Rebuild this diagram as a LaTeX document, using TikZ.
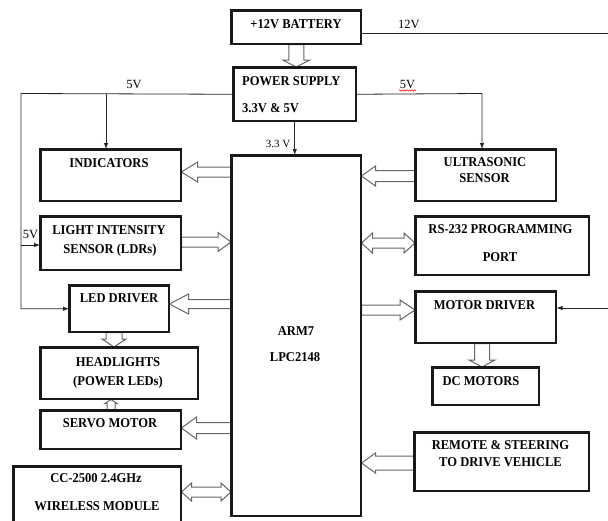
\documentclass[tikz,border=0pt]{standalone}
\usepackage{fontspec}
\setmainfont{Liberation Serif}
\newfontfamily\lblfont[FakeStretch=0.93]{Liberation Serif}
\usetikzlibrary{calc,arrows.meta,decorations.pathmorphing}
\tikzset{
  box/.style={draw=black!90, line width=1.5pt, rectangle, inner sep=0pt, anchor=north west},
  lbl/.style={inner sep=0pt, anchor=base, font=\lblfont\bfseries\fontsize{13.5}{15}\selectfont},
  vlt/.style={inner sep=0pt, anchor=base, font=\fontsize{12.5}{15}\selectfont},
  wire/.style={line width=0.8pt, draw=black!85},
  tip/.style={-{Latex[length=6pt,width=4.5pt]}},
  blkarr/.style={draw=black!60, fill=white, line width=1pt, line join=miter},
}
% hollow block arrow, head at #2: shaft half width #3, head half width #4, head length #5
\newcommand\blkone[5]{%
  \path[blkarr] let \p1=(#1), \p2=(#2),
    \n1={veclen(\x2-\x1,\y2-\y1)}, \n2={atan2(\y2-\y1,\x2-\x1)} in
    [shift={(\p1)}, rotate=\n2]
    (0pt,-#3pt) -- ({\n1-#5pt},-#3pt) -- ({\n1-#5pt},-#4pt) -- (\n1,0pt)
    -- ({\n1-#5pt},#4pt) -- ({\n1-#5pt},#3pt) -- (0pt,#3pt) -- cycle;}
% hollow block arrow with heads at both ends
\newcommand\blktwo[5]{%
  \path[blkarr] let \p1=(#1), \p2=(#2),
    \n1={veclen(\x2-\x1,\y2-\y1)}, \n2={atan2(\y2-\y1,\x2-\x1)} in
    [shift={(\p1)}, rotate=\n2]
    (#5pt,-#3pt) -- ({\n1-#5pt},-#3pt) -- ({\n1-#5pt},-#4pt) -- (\n1,0pt)
    -- ({\n1-#5pt},#4pt) -- ({\n1-#5pt},#3pt) -- (#5pt,#3pt) -- (#5pt,#4pt)
    -- (0pt,0pt) -- (#5pt,-#4pt) -- cycle;}
\begin{document}
\begin{tikzpicture}[x=1pt,y=-1pt]
\clip (0,0) rectangle (608,520);
% boxes (positions only)
\path
  node[box, minimum width=129, minimum height=33]  (bat)    at (231,10)  {}
  node[box, minimum width=122, minimum height=53]  (ps)     at (233,67)  {}
  node[box, minimum width=129, minimum height=360] (arm)    at (231,155) {}
  node[box, minimum width=140, minimum height=51]  (ind)    at (40,149)  {}
  node[box, minimum width=140, minimum height=53]  (ldr)    at (40,216)  {}
  node[box, minimum width=99,  minimum height=46]  (led)    at (69,285)  {}
  node[box, minimum width=157, minimum height=51]  (head)   at (40,347)  {}
  node[box, minimum width=140, minimum height=38]  (servo)  at (40,410)  {}
  node[box, minimum width=167, minimum height=64]  (cc)     at (13,466)  {}
  node[box, minimum width=140, minimum height=51]  (ultra)  at (415,149) {}
  node[box, minimum width=173, minimum height=58]  (rs)     at (415,216) {}
  node[box, minimum width=140, minimum height=51]  (motor)  at (415,291) {}
  node[box, minimum width=106, minimum height=37]  (dc)     at (432,367) {}
  node[box, minimum width=174, minimum height=58]  (remote) at (414,432) {};
% helper coordinates
\coordinate (yA) at (0,172);
\coordinate (yB) at (0,176);
\coordinate (yC) at (0,242);
\coordinate (yD) at (0,243);
\coordinate (yE) at (0,304);
\coordinate (yF) at (0,310);
\coordinate (yG) at (0,428);
\coordinate (yH) at (0,492);
\coordinate (yI) at (0,463);
\coordinate (xJ) at (114,0);
\coordinate (xK) at (111,0);
\coordinate (xL) at (482,0);
% block arrows
\blkone{bat.south}{bat.south |- ps.north}{7.5}{13.5}{7}
\blkone{arm.west |- yA}{ind.east |- yA}{5}{10}{16}
\blkone{ultra.west |- yB}{arm.east |- yB}{5.5}{10}{14}
\blkone{ldr.east |- yC}{arm.west |- yC}{5}{9.5}{13}
\blktwo{arm.east |- yD}{rs.west |- yD}{5}{10}{11}
\blkone{arm.west |- yE}{led.east |- yE}{4.5}{10}{19}
\blkone{arm.east |- yF}{motor.west |- yF}{5}{10}{15}
\blkone{arm.west |- yG}{servo.east |- yG}{5.5}{11}{15}
\blktwo{cc.east |- yH}{arm.west |- yH}{5}{9}{10}
\blkone{remote.west |- yI}{arm.east |- yI}{7}{10}{14}
\blkone{xJ |- led.south}{xJ |- head.north}{8}{12}{8}
\blkone{xK |- servo.north}{xK |- head.south}{4}{6}{4}
\blkone{xL |- motor.south}{xL |- dc.north}{7.5}{13}{7}
% redraw boxes on top
\foreach \b in {bat,ps,arm,ind,ldr,led,head,servo,cc,ultra,rs,motor,dc,remote}
  \draw[line width=1.5pt, draw=black!90] (\b.north west) rectangle (\b.south east);
% wires
\coordinate (jL) at (21,93.5);
\coordinate (jI) at (106,93.5);
\coordinate (jR) at (482,93.5);
\coordinate (yLdr) at (0,245);
\coordinate (y12) at (0,33);
\coordinate (e12) at (608,33);
\coordinate (m12) at (608,308);
\draw[wire,tip] (ps.west) -- (jL) |- (led.west);
\draw[wire,tip] (jI) -- (jI |- ind.north);
\draw[wire,tip] (jL |- yLdr) -- (ldr.west |- yLdr);
\draw[wire,tip] (ps.east) -- (jR) -- (jR |- ultra.north);
\draw[wire,tip] (ps.south) -- (ps.south |- arm.north);
\draw[wire] (bat.east |- y12) -- (e12);
\draw[wire,tip] (m12) -- (m12 -| motor.east);
% voltage labels
\node[vlt] (v5a) at (134,88) {5V};
\node[vlt] (v5b) at (407.5,88) {5V};
\draw[red, line width=0.5pt, decorate, decoration={snake, amplitude=0.7pt, segment length=2.5pt}] (399,90.5) -- (416,90.5);
\node[vlt] (v12) at (409,28) {12V};
\node[vlt] (v5c) at (30.5,238) {5V};
\node[vlt, font=\fontsize{11}{13}\selectfont] (v33) at (278,147) {3.3 V};
% box texts
\node[lbl] (tbat) at (296,28.5) {+12V BATTERY};
\node[lbl, anchor=base west] (tps1) at (242,85.5) {POWER SUPPLY};
\node[lbl, anchor=base west] (tps2) at (242,112.5) {3.3V \& 5V};
\node[lbl] (tind) at (109,167.5) {INDICATORS};
\node[lbl] (tldr1) at (109,234.5) {LIGHT INTENSITY};
\node[lbl] (tldr2) at (110,253.5) {SENSOR (LDRs)};
\node[lbl] (tled) at (119,302.5) {LED DRIVER};
\node[lbl] (thead1) at (118,366.5) {HEADLIGHTS};
\node[lbl] (thead2) at (118,385.5) {(POWER LEDs)};
\node[lbl] (tservo) at (110,427.5) {SERVO MOTOR};
\node[lbl] (tcc1) at (96,482.5) {CC-2500 2.4GHz};
\node[lbl] (tcc2) at (97,510.5) {WIRELESS MODULE};
\node[lbl] (tarm1) at (296,335.5) {ARM7};
\node[lbl] (tarm2) at (295,361.5) {LPC2148};
\node[lbl] (tult1) at (485,166.5) {ULTRASONIC};
\node[lbl] (tult2) at (484.5,182.5) {SENSOR};
\node[lbl] (trs1) at (500.5,233.5) {RS-232 PROGRAMMING};
\node[lbl] (trs2) at (500,261.5) {PORT};
\node[lbl] (tmot) at (484.5,309.5) {MOTOR DRIVER};
\node[lbl] (tdc) at (481,385.5) {DC MOTORS};
\node[lbl] (trem1) at (500.5,449.5) {REMOTE \& STEERING};
\node[lbl] (trem2) at (500.5,466.5) {TO DRIVE VEHICLE};
\end{tikzpicture}
\end{document}
